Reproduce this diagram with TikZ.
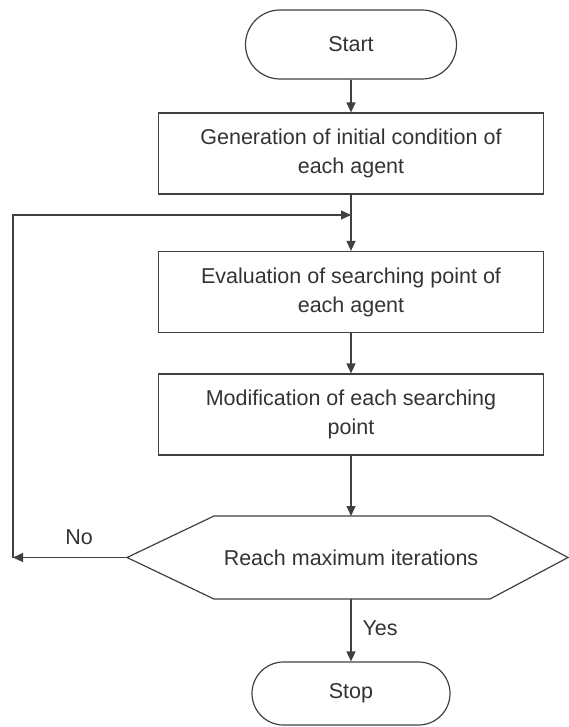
\documentclass[tikz,border=0pt]{standalone}
\usepackage{fontspec}
\setmainfont{Liberation Sans}
\usetikzlibrary{arrows.meta}
\definecolor{ln}{gray}{0.25}
\definecolor{tx}{gray}{0.2}
\tikzset{
  box/.style={draw=ln, line width=1.2pt, minimum width=385pt, minimum height=81pt, align=center, inner sep=0pt},
  term/.style={draw=ln, line width=1.2pt, align=center, inner sep=0pt},
  lbl/.style={text=tx, font=\fontsize{21.5}{29}\selectfont},
  arr/.style={draw=ln, line width=1.2pt, -{Triangle[length=10pt,width=9pt]}},
  ln/.style={draw=ln, line width=1.2pt}
}
\begin{document}
\begin{tikzpicture}[x=1pt,y=-1pt]
\useasboundingbox (0,0) rectangle (569,727);
\node[term, lbl, minimum width=211pt, minimum height=69pt, rounded corners=34.5pt] (start) at (351,44.5) {Start};
\node[box, lbl] (b1) at (351,153.5) {Generation of initial condition of\\each agent};
\node[box, lbl] (b2) at (351,292) {Evaluation of searching point of\\each agent};
\node[box, lbl] (b3) at (351,414.5) {Modification of each searching\\point};
\coordinate (hL) at (127,557.5);
\coordinate (hTL) at (214,516);
\coordinate (hTR) at (490,516);
\coordinate (hR) at (568,557.5);
\coordinate (hBR) at (490,599);
\coordinate (hBL) at (214,599);
\draw[ln] (hL) -- (hTL) -- (hTR) -- (hR) -- (hBR) -- (hBL) -- cycle;
\node[lbl] (dec) at (351,557.5) {Reach maximum iterations};
\coordinate (hTop) at (351,516);
\coordinate (hBot) at (351,599);
\node[term, lbl, minimum width=198pt, minimum height=63pt, rounded corners=31.5pt] (stop) at (351,693.5) {Stop};
\coordinate (cBL) at (13,557.5);
\coordinate (cTL) at (13,215);
\coordinate (join) at (351,215);
\draw[arr] (start) -- (b1);
\draw[arr] (b1) -- (b2);
\draw[arr] (b2) -- (b3);
\draw[arr] (b3) -- (hTop);
\draw[arr] (hBot) -- (stop);
\draw[arr] (hL) -- (cBL);
\draw[arr] (cBL) -- (cTL) -- (join);
\node[lbl] (no) at (79,537) {No};
\node[lbl, anchor=west] (yes) at (359,628) {Yes};
\end{tikzpicture}
\end{document}
